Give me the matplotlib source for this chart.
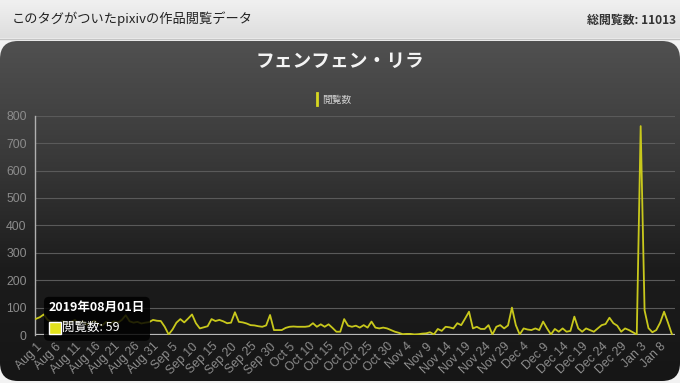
import numpy as np
import matplotlib.pyplot as plt
from matplotlib.patches import FancyBboxPatch, Rectangle
from matplotlib.colors import LinearSegmentedColormap

plt.rcParams['font.family'] = ['Liberation Sans', 'Noto Sans CJK JP', 'DejaVu Sans']
JP = ['Noto Sans CJK JP', 'DejaVu Sans']

# daily views, 2019-08-01 .. 2020-01-11
views = [59, 65, 75, 55, 48, 50, 45, 52, 40, 48,
         55, 42, 50, 38, 45, 52, 40, 35, 48, 42,
         50, 45, 55, 72, 50, 45, 48, 42, 45, 47,
         55, 52, 51, 30, 2, 20, 45, 58, 46, 60,
         75, 43, 24, 28, 32, 58, 51, 55, 50, 43,
         45, 83, 48, 46, 42, 36, 35, 32, 30, 35,
         73, 18, 18, 18, 26, 30, 31, 30, 30, 30,
         32, 43, 30, 39, 30, 39, 26, 12, 12, 58,
         34, 30, 34, 27, 36, 27, 49, 27, 24, 27,
         24, 18, 12, 8, 3, 4, 4, 2, 3, 5,
         6, 10, 2, 22, 15, 30, 28, 24, 43, 36,
         60, 85, 24, 30, 22, 22, 36, 2, 30, 36,
         24, 35, 100, 36, 2, 24, 20, 18, 24, 18,
         49, 24, 2, 22, 12, 24, 12, 15, 67, 24,
         12, 24, 18, 12, 24, 36, 40, 63, 43, 34,
         12, 24, 18, 10, 2, 762, 90, 25, 10, 18,
         45, 85, 45, 3]

tick_labels = ['Aug 1', 'Aug 6', 'Aug 11', 'Aug 16', 'Aug 21', 'Aug 26', 'Aug 31',
               'Sep 5', 'Sep 10', 'Sep 15', 'Sep 20', 'Sep 25', 'Sep 30',
               'Oct 5', 'Oct 10', 'Oct 15', 'Oct 20', 'Oct 25', 'Oct 30',
               'Nov 4', 'Nov 9', 'Nov 14', 'Nov 19', 'Nov 24', 'Nov 29',
               'Dec 4', 'Dec 9', 'Dec 14', 'Dec 19', 'Dec 24', 'Dec 29',
               'Jan 3', 'Jan 8']
tick_step = 5

page_title = 'このタグがついたpixivの作品閲覧データ'
total_text = '総閲覧数: 11013'
chart_title = 'フェンフェン・リラ'
series_name = '閲覧数'
tip_date = '2019年08月01日'

W, H = 680, 383
fig = plt.figure(figsize=(W / 100, H / 100), dpi=100)
fig.patch.set_facecolor('#f2f2f2')

# background layer, pixel coordinates (y down)
bg = fig.add_axes([0, 0, 1, 1], zorder=0)
bg.axis('off')

head = np.linspace(0, 1, 50).reshape(-1, 1)
bg.imshow(head, extent=(0, W, 38, 0), aspect='auto',
          cmap=LinearSegmentedColormap.from_list('h', ['#f0f0f0', '#dedede']))
bg.plot([0, W], [38.5, 38.5], color='#c4c4c4', lw=1)
bg.text(12, 19, page_title, family=JP, fontsize=9.5, color='#222', va='center')
bg.text(676, 20, total_text, family=JP, fontsize=8.6, color='#333', va='center', ha='right',
        weight='bold')

panel = FancyBboxPatch((0, 41), W, 340, boxstyle='round,pad=0,rounding_size=18',
                       facecolor='none', edgecolor='none', transform=bg.transData)
bg.add_patch(panel)
grad = np.linspace(0, 1, 200).reshape(-1, 1)
im = bg.imshow(grad, extent=(0, W, 381, 41), aspect='auto',
               cmap=LinearSegmentedColormap.from_list(
                   'p', ['#505050', '#3a3a3a', '#1c1c1c', '#161616']))
im.set_clip_path(panel)
bg.set_xlim(0, W)
bg.set_ylim(H, 0)

bg.text(W / 2, 61, chart_title, family=JP, fontsize=13.5, color='#f4f4f4',
        ha='center', va='center', weight='bold')
bg.plot([317, 317], [93, 105], color='#d8d820', lw=2)
bg.text(322, 99.5, series_name, family=JP, fontsize=7, color='#d0d0d0', va='center')

# chart
n = len(views)
x = np.arange(n)
left, right, top, bottom = 35, 675, 115.7, 335
ax = fig.add_axes([left / W, 1 - bottom / H, (right - left) / W, (bottom - top) / H], zorder=1)
ax.patch.set_alpha(0)
ax.plot(x, views, color='#c8c81c', lw=1.3, zorder=3)
ax.set_ylim(0, 800)
ax.set_xlim(-0.25, n - 1 + 0.8)
ax.set_yticks(range(0, 801, 100))
ax.yaxis.grid(True, color='#5a5a5a', lw=0.8)
ax.axhline(0, color='#b8b8b8', lw=1.6, zorder=2)
for s in ['top', 'right', 'bottom']:
    ax.spines[s].set_visible(False)
ax.spines['left'].set_color('#b0b0b0')
ax.spines['left'].set_linewidth(1)
ax.set_xticks(x[::tick_step])
ax.set_xticklabels(tick_labels, rotation=45, ha='right', rotation_mode='anchor')
ax.tick_params(axis='both', length=0, colors='#8c8c8c', labelsize=8.8)
ax.tick_params(axis='x', pad=4)
ax.tick_params(axis='y', pad=6)

# tooltip for the first point
fig.canvas.draw()
px, py = ax.transData.transform((x[0], views[0]))
py = H - py
tip = fig.add_axes([0, 0, 1, 1], zorder=2)
tip.set_xlim(0, W)
tip.set_ylim(H, 0)
tip.axis('off')
tip.add_patch(FancyBboxPatch((px + 8, py - 22), 106, 44,
                             boxstyle='round,pad=0,rounding_size=5',
                             facecolor='#000000', alpha=0.82, edgecolor='none'))
tip.text(px + 13, py - 11, tip_date, family=JP, fontsize=9, color='white',
         weight='bold', va='center')
tip.add_patch(Rectangle((px + 13, py + 3), 12, 12, facecolor='#e3e31c',
                        edgecolor='white', lw=1))
tip.text(px + 26, py + 9, f'{series_name}: {views[0]}', family=JP, fontsize=9,
         color='white', va='center')

fig.savefig('out.png', dpi=100, facecolor=fig.get_facecolor())
